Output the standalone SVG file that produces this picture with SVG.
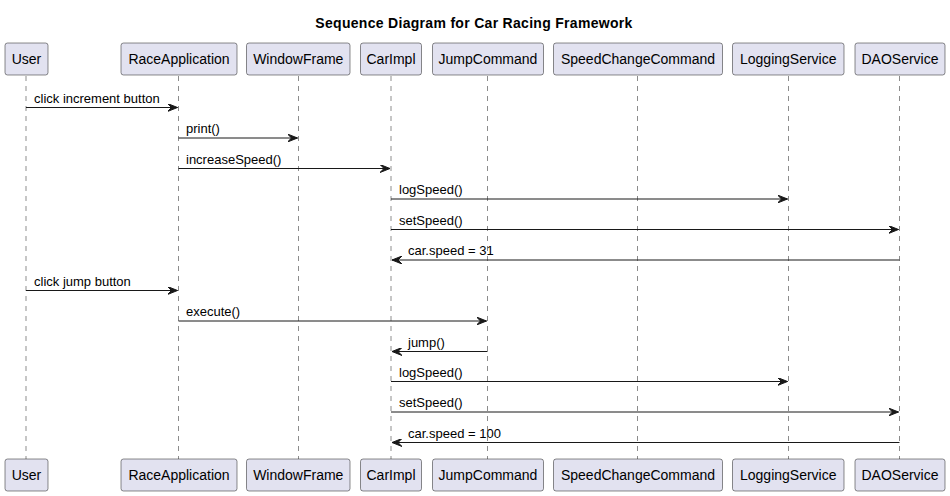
<svg xmlns="http://www.w3.org/2000/svg" width="950" height="496" viewBox="0 0 950 496">
<style>
.box{fill:#E2E2F0;stroke:#181818;stroke-width:0.5}
.pt{font-family:"Liberation Sans",Arial,sans-serif;font-size:14px;fill:#000;text-anchor:middle}
.life{stroke:#181818;stroke-width:0.5;stroke-dasharray:5,5}
.msg{stroke:#181818;stroke-width:1;fill:none}
.ml{font-family:"Liberation Sans",Arial,sans-serif;font-size:13px;fill:#000}
.title{font-family:"Liberation Sans",Arial,sans-serif;font-size:14px;font-weight:bold;fill:#000;text-anchor:middle;letter-spacing:0.3px}
</style>
<defs>
<marker id="ah" viewBox="0 0 10 8" refX="10" refY="4" markerWidth="10" markerHeight="8" markerUnits="userSpaceOnUse" orient="auto">
<polygon points="0,0 10,4 0,8 4,4" fill="#181818" stroke="#181818" stroke-width="1"/>
</marker>
</defs>
<rect width="950" height="496" fill="#FFFFFF"/>
<text class="title" x="474" y="28">Sequence Diagram for Car Racing Framework</text>

<g id="lifelines">
<line class="life" x1="26" y1="76" x2="26" y2="459"/>
<line class="life" x1="178.5" y1="76" x2="178.5" y2="459"/>
<line class="life" x1="298.5" y1="76" x2="298.5" y2="459"/>
<line class="life" x1="391" y1="76" x2="391" y2="459"/>
<line class="life" x1="487.5" y1="76" x2="487.5" y2="459"/>
<line class="life" x1="637.5" y1="76" x2="637.5" y2="459"/>
<line class="life" x1="788.5" y1="76" x2="788.5" y2="459"/>
<line class="life" x1="899.5" y1="76" x2="899.5" y2="459"/>
</g>

<g id="User">
<rect class="box" x="5" y="43" width="43" height="32" rx="2.5"/>
<text class="pt" x="26.5" y="64">User</text>
<rect class="box" x="5" y="459" width="43" height="32" rx="2.5"/>
<text class="pt" x="26.5" y="480">User</text>
</g>
<g id="RaceApplication">
<rect class="box" x="121" y="43" width="116" height="32" rx="2.5"/>
<text class="pt" x="179" y="64">RaceApplication</text>
<rect class="box" x="121" y="459" width="116" height="32" rx="2.5"/>
<text class="pt" x="179" y="480">RaceApplication</text>
</g>
<g id="WindowFrame">
<rect class="box" x="246.5" y="43" width="103.5" height="32" rx="2.5"/>
<text class="pt" x="298.25" y="64">WindowFrame</text>
<rect class="box" x="246.5" y="459" width="103.5" height="32" rx="2.5"/>
<text class="pt" x="298.25" y="480">WindowFrame</text>
</g>
<g id="CarImpl">
<rect class="box" x="360.5" y="43" width="61" height="32" rx="2.5"/>
<text class="pt" x="391" y="64">CarImpl</text>
<rect class="box" x="360.5" y="459" width="61" height="32" rx="2.5"/>
<text class="pt" x="391" y="480">CarImpl</text>
</g>
<g id="JumpCommand">
<rect class="box" x="432.5" y="43" width="111" height="32" rx="2.5"/>
<text class="pt" x="488" y="64">JumpCommand</text>
<rect class="box" x="432.5" y="459" width="111" height="32" rx="2.5"/>
<text class="pt" x="488" y="480">JumpCommand</text>
</g>
<g id="SpeedChangeCommand">
<rect class="box" x="553.5" y="43" width="169" height="32" rx="2.5"/>
<text class="pt" x="638" y="64">SpeedChangeCommand</text>
<rect class="box" x="553.5" y="459" width="169" height="32" rx="2.5"/>
<text class="pt" x="638" y="480">SpeedChangeCommand</text>
</g>
<g id="LoggingService">
<rect class="box" x="732.5" y="43" width="111.5" height="32" rx="2.5"/>
<text class="pt" x="788.25" y="64">LoggingService</text>
<rect class="box" x="732.5" y="459" width="111.5" height="32" rx="2.5"/>
<text class="pt" x="788.25" y="480">LoggingService</text>
</g>
<g id="DAOService">
<rect class="box" x="855" y="43" width="90" height="32" rx="2.5"/>
<text class="pt" x="900" y="64">DAOService</text>
<rect class="box" x="855" y="459" width="90" height="32" rx="2.5"/>
<text class="pt" x="900" y="480">DAOService</text>
</g>

<g id="connectors">
<line class="msg" x1="26" y1="107.5" x2="177.5" y2="107.5" marker-end="url(#ah)"/>
<text class="ml" x="34" y="103">click increment button</text>
<line class="msg" x1="178.5" y1="138" x2="297.5" y2="138" marker-end="url(#ah)"/>
<text class="ml" x="186" y="133">print()</text>
<line class="msg" x1="178.5" y1="168.5" x2="390" y2="168.5" marker-end="url(#ah)"/>
<text class="ml" x="186" y="164">increaseSpeed()</text>
<line class="msg" x1="391" y1="199" x2="787.5" y2="199" marker-end="url(#ah)"/>
<text class="ml" x="399" y="194">logSpeed()</text>
<line class="msg" x1="391" y1="229.5" x2="898.5" y2="229.5" marker-end="url(#ah)"/>
<text class="ml" x="399" y="225">setSpeed()</text>
<line class="msg" x1="899.5" y1="260" x2="392" y2="260" marker-end="url(#ah)"/>
<text class="ml" x="408" y="255">car.speed = 31</text>
<line class="msg" x1="26" y1="290.5" x2="177.5" y2="290.5" marker-end="url(#ah)"/>
<text class="ml" x="34" y="286">click jump button</text>
<line class="msg" x1="178.5" y1="321" x2="486.5" y2="321" marker-end="url(#ah)"/>
<text class="ml" x="186" y="316">execute()</text>
<line class="msg" x1="487.5" y1="351.5" x2="392" y2="351.5" marker-end="url(#ah)"/>
<text class="ml" x="408" y="347">jump()</text>
<line class="msg" x1="391" y1="381.5" x2="787.5" y2="381.5" marker-end="url(#ah)"/>
<text class="ml" x="399" y="377">logSpeed()</text>
<line class="msg" x1="391" y1="412" x2="898.5" y2="412" marker-end="url(#ah)"/>
<text class="ml" x="399" y="407">setSpeed()</text>
<line class="msg" x1="899.5" y1="442.5" x2="392" y2="442.5" marker-end="url(#ah)"/>
<text class="ml" x="408" y="438">car.speed = 100</text>
</g>
</svg>
